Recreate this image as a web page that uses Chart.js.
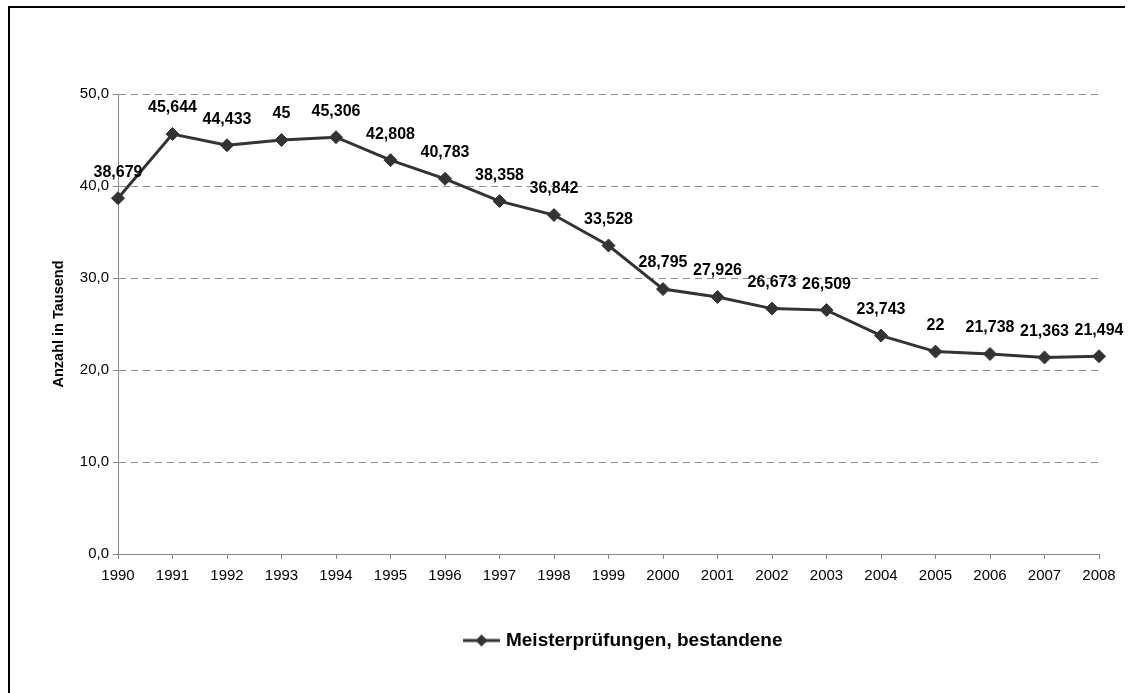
<!DOCTYPE html>
<html>
<head>
<meta charset="utf-8">
<script src="https://cdn.jsdelivr.net/npm/chart.js@4/dist/chart.umd.min.js"></script>
<style>
  html, body { margin: 0; padding: 0; background: #fff; }
  #wrap { position: relative; width: 1128px; height: 693px; overflow: hidden; }
  #frame { position: absolute; left: 8px; top: 6px; width: 1115px; height: 800px;
           border-top: 2px solid #000; border-left: 2px solid #000; pointer-events: none; }
  canvas { position: absolute; left: 0; top: 0; }
</style>
</head>
<body>
<div id="wrap">
  <canvas id="c" width="1128" height="693"></canvas>
  <div id="frame"></div>
</div>
<script>
// ---- data ----
const years = ['1990','1991','1992','1993','1994','1995','1996','1997','1998','1999',
               '2000','2001','2002','2003','2004','2005','2006','2007','2008'];
const meisterValues = [38.679, 45.644, 44.433, 45, 45.306, 42.808, 40.783, 38.358, 36.842, 33.528,
                       28.795, 27.926, 26.673, 26.509, 23.743, 22, 21.738, 21.363, 21.494];
const seriesName = 'Meisterprüfungen, bestandene';
const yAxisTitle = 'Anzahl in Tausend';
const yTickValues = [0, 10, 20, 30, 40, 50];

const lineColor = '#333333';
const FONT = "'Liberation Sans', Arial, sans-serif";

function fmtDe(v, digits) {
  const s = (digits === undefined) ? String(v) : v.toFixed(digits);
  return s.replace('.', ',');
}

// legend sample: line with diamond
function legendSample() {
  const c = document.createElement('canvas');
  c.width = 69; c.height = 16;
  const g = c.getContext('2d');
  g.strokeStyle = lineColor; g.lineWidth = 3;
  g.beginPath(); g.moveTo(32, 8); g.lineTo(69, 8); g.stroke();
  g.fillStyle = lineColor;
  const cx = 50.5, cy = 8, r = 6;
  g.beginPath(); g.moveTo(cx, cy - r); g.lineTo(cx + r, cy); g.lineTo(cx, cy + r); g.lineTo(cx - r, cy); g.closePath(); g.fill();
  return c;
}
const sampleImg = legendSample();

const dataLabelPlugin = {
  id: 'dataLabels',
  afterDatasetsDraw(chart) {
    const ctx = chart.ctx;
    const meta = chart.getDatasetMeta(0);
    ctx.save();
    ctx.font = "bold 16px " + FONT;
    ctx.fillStyle = '#000';
    ctx.textAlign = 'center';
    ctx.textBaseline = 'middle';
    meta.data.forEach((el, i) => {
      ctx.fillText(fmtDe(chart.data.datasets[0].data[i]), el.x, el.y - 26);
    });
    ctx.restore();
  }
};

new Chart(document.getElementById('c'), {
  type: 'line',
  data: {
    labels: years,
    datasets: [{
      label: seriesName,
      data: meisterValues,
      borderColor: lineColor,
      backgroundColor: lineColor,
      borderWidth: 3,
      pointStyle: 'rectRot',
      pointRadius: 6.5,
      pointBorderWidth: 1,
      pointBackgroundColor: lineColor,
      pointBorderColor: lineColor,
      tension: 0,
      fill: false
    }]
  },
  options: {
    responsive: false,
    animation: false,
    devicePixelRatio: 1,
    layout: { padding: { left: 0, right: 29, top: 94, bottom: 33 } },
    plugins: {
      legend: {
        position: 'bottom',
        fullSize: false,
        labels: {
          usePointStyle: true,
          pointStyleWidth: 62,
          padding: 10,
          color: '#000',
          font: { family: FONT, size: 19, weight: 'bold' },
          generateLabels(chart) {
            return [{
              text: chart.data.datasets[0].label,
              pointStyle: sampleImg,
              fillStyle: lineColor,
              strokeStyle: lineColor,
              lineWidth: 0,
              hidden: false,
              datasetIndex: 0,
              fontColor: '#000'
            }];
          }
        }
      },
      tooltip: { enabled: false },
      title: { display: false }
    },
    scales: {
      x: {
        type: 'category',
        offset: false,
        afterFit(scale) { scale.height = 67; },
        grid: { display: true, drawOnChartArea: false, drawTicks: true, tickLength: 5, color: '#888', tickColor: '#888' },
        border: { display: true, color: '#888', width: 1 },
        ticks: { color: '#000', font: { family: FONT, size: 15 }, padding: 8, maxRotation: 0, autoSkip: false }
      },
      y: {
        min: 0, max: 50,
        afterFit(scale) { scale.width = 118; },
        afterBuildTicks(scale) { scale.ticks = yTickValues.map(v => ({ value: v })); },
        grid: { display: true, drawTicks: true, tickLength: 5, color: '#8c8c8c', tickColor: '#888', tickBorderDash: [] },
        border: { display: true, color: '#888', width: 1, dash: [7, 5] },
        ticks: {
          color: '#000', font: { family: FONT, size: 15 }, padding: 4,
          callback: (v) => fmtDe(v, 1)
        },
        title: {
          display: true, text: yAxisTitle, color: '#000',
          font: { family: FONT, size: 14.5, weight: 'bold' },
          padding: { top: 50, bottom: 0 }
        }
      }
    }
  },
  plugins: [dataLabelPlugin]
});
</script>
</body>
</html>
